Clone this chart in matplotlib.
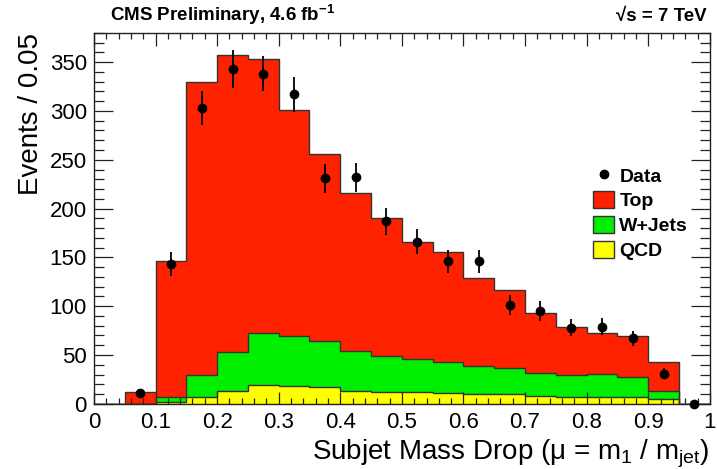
import numpy as np
import matplotlib.pyplot as plt
from matplotlib.lines import Line2D
from matplotlib.patches import Patch
from matplotlib.ticker import MultipleLocator

plt.rcParams['font.family'] = ['Liberation Sans', 'DejaVu Sans']
plt.rcParams['mathtext.fontset'] = 'custom'
plt.rcParams['mathtext.rm'] = 'Liberation Sans'
plt.rcParams['mathtext.it'] = 'Liberation Sans'
plt.rcParams['mathtext.bf'] = 'Liberation Sans:bold'

# mass drop bins, width 0.05
edges = np.linspace(0.0, 1.0, 21)

# stacked MC components per bin
qcd = [0, 0, 2, 7, 13, 19, 18, 17, 13, 12, 12, 11, 10, 10, 8, 7, 7, 7, 5, 0]
wjets = [0, 0, 5, 22, 40, 54, 51, 47, 41, 37, 34, 32, 29, 27, 24, 23, 24, 20, 8, 0]
top = [0, 12, 139, 301, 304, 280, 232, 192, 162, 141, 120, 112, 90, 80, 61, 49, 42, 42, 30, 0]

# data with statistical errors
data = [np.nan, 11, 143, 303, 343, 338, 317, 231, 232, 187, 166, 146, 146, 101, 95, 78, 79, 67, 31, 0]
data_err = [0, 3, 12, 17, 19, 18, 18, 15, 15, 14, 13, 12, 12, 10, 10, 9, 9, 8, 6, 0]

red = '#ff2200'
green = '#00ee00'
yellow = '#ffff00'
outline = '#333333'

fig = plt.figure(figsize=(7.17, 4.69), dpi=100)
ax = fig.add_axes([0.131, 0.139, 0.859, 0.791])

qcd_arr = np.array(qcd, dtype=float)
w_top = qcd_arr + np.array(wjets, dtype=float)
total = w_top + np.array(top, dtype=float)

for vals, col in [(total, red), (w_top, green), (qcd_arr, yellow)]:
    ax.stairs(vals, edges, baseline=0, fill=True, color=col, zorder=1)
    ax.stairs(vals, edges, baseline=0, fill=False, color=outline, lw=1.0, zorder=2)

centers = 0.5 * (edges[:-1] + edges[1:])
ax.errorbar(centers, data, yerr=data_err, fmt='o', color='black', ms=6,
            elinewidth=1.3, capsize=0, zorder=5, clip_on=False)

ax.set_xlim(0, 1)
ax.set_ylim(0, 380)

ax.xaxis.set_major_locator(MultipleLocator(0.1))
ax.xaxis.set_minor_locator(MultipleLocator(0.02))
ax.yaxis.set_major_locator(MultipleLocator(50))
ax.yaxis.set_minor_locator(MultipleLocator(10))
ax.xaxis.set_major_formatter(lambda v, p: '%g' % round(v, 2))

ax.tick_params(axis='both', which='both', direction='in', top=True, right=True,
               labelsize=16, color='#222222', width=0.9)
ax.tick_params(axis='x', which='major', length=9, pad=6)
ax.tick_params(axis='x', which='minor', length=4.5)
ax.tick_params(axis='y', which='major', length=14, pad=5)
ax.tick_params(axis='y', which='minor', length=7.5)
for sp in ax.spines.values():
    sp.set_linewidth(1.0)
    sp.set_color('#222222')

ax.set_ylabel('Events / 0.05', fontsize=20, loc='top', labelpad=4)
ax.set_xlabel('Subjet Mass Drop ($\\mu$ = m$_{1}$ / m$_{jet}$)', fontsize=20,
              loc='right', labelpad=3)

fig.text(0.153, 0.955, 'CMS Preliminary, 4.6 fb$^{\\mathbf{-1}}$', fontsize=13.5,
         fontweight='bold', ha='left', va='baseline')
fig.text(0.986, 0.955, '\u221as = 7 TeV', fontsize=13.5, fontweight='bold',
         ha='right', va='baseline')

handles = [
    Line2D([], [], marker='o', ls='none', color='black', ms=6),
    Patch(facecolor=red, edgecolor=outline, lw=1.0),
    Patch(facecolor=green, edgecolor=outline, lw=1.0),
    Patch(facecolor=yellow, edgecolor=outline, lw=1.0),
]
leg = ax.legend(handles, ['Data', 'Top', 'W+Jets', 'QCD'], loc='upper left',
                bbox_to_anchor=(0.782, 0.687), frameon=False, handlelength=1.1,
                handleheight=0.95, handletextpad=0.25, labelspacing=0.3,
                borderpad=0.4, prop={'weight': 'bold', 'size': 14})

fig.savefig('out.png', dpi=100)
